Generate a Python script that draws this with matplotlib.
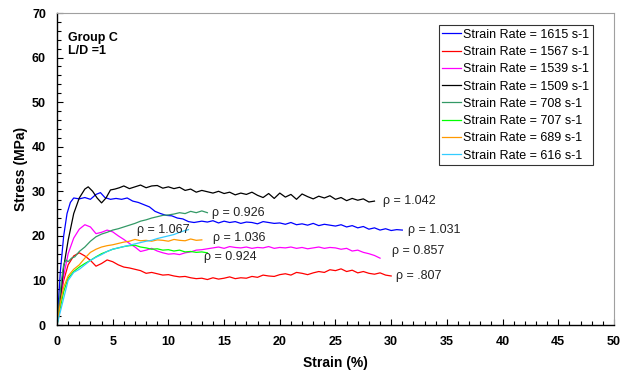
import numpy as np
import matplotlib
matplotlib.use("Agg")
import matplotlib.pyplot as plt
from matplotlib.ticker import MultipleLocator

plt.rcParams['font.family'] = ['Liberation Sans', 'DejaVu Sans']

# Stress-strain curves (strain %, stress MPa)
strain_1615 = [0, 0.3, 0.6, 0.9, 1.2, 1.5, 2.0, 2.5, 3.0, 3.5, 3.9, 4.3, 4.8, 5.3, 5.8, 6.3, 6.8, 7.3,
               7.8, 8.3, 8.8, 9.3, 9.8, 10.3, 10.8, 11.3, 11.8, 12.3, 13, 13.5, 14, 14.5, 15, 15.5, 16,
               16.5, 17, 17.5, 18, 18.5, 19, 19.5, 20, 20.5, 21, 21.5, 22, 22.5, 23, 23.5, 24, 24.5,
               25, 25.5, 26, 26.5, 27, 27.5, 28, 28.5, 29, 29.5, 30, 30.5, 31]
stress_1615 = [0, 12, 20, 25, 27.5, 28.5, 28.3, 28.6, 28.2, 29.3, 29.7, 28.6, 28.2, 28.4, 28.2, 28.5,
               27.8, 27.5, 27, 26.5, 25.5, 25, 24.6, 24.5, 24, 23.8, 23.2, 23, 23.3, 23.1, 23.4, 22.9,
               23.3, 23.0, 23.2, 22.8, 23.1, 23.0, 22.7, 23.2, 23.0, 22.8, 22.9, 22.6, 23.0, 22.5,
               22.7, 22.4, 22.8, 22.3, 22.6, 22.4, 22.2, 22.5, 22.0, 22.3, 21.8, 22.1, 21.5, 21.8,
               21.3, 21.6, 21.2, 21.4, 21.3]

strain_1567 = [0, 0.3, 0.6, 1.0, 1.5, 2.0, 2.5, 3.0, 3.5, 4.0, 4.5, 5.0, 5.5, 6.0, 6.5, 7.0, 7.5, 8.0,
               8.5, 9, 9.5, 10, 10.5, 11, 11.5, 12, 12.5, 13, 13.5, 14, 14.5, 15, 15.5, 16, 16.5, 17,
               17.5, 18, 18.5, 19, 19.5, 20, 20.5, 21, 21.5, 22, 22.5, 23, 23.5, 24, 24.5, 25, 25.5,
               26, 26.5, 27, 27.5, 28, 28.5, 29, 29.5, 30]
stress_1567 = [0, 6, 10, 13.5, 15.5, 16.2, 15.5, 14.5, 13.2, 13.8, 14.6, 14.2, 13.5, 13, 12.8, 12.5,
               12.2, 11.6, 11.8, 11.5, 11.2, 11.3, 11, 10.8, 10.9, 10.6, 10.4, 10.5, 10.2, 10.6, 10.3,
               10.5, 10.8, 10.4, 10.6, 10.5, 10.9, 10.7, 11.2, 11, 10.9, 11.3, 11.5, 11.2, 11.8, 11.6,
               11.3, 11.7, 12.0, 11.8, 12.4, 12.2, 12.6, 12.0, 12.3, 11.7, 12.0, 11.6, 11.4, 11.7,
               11.2, 11.0]

strain_1539 = [0, 0.3, 0.6, 1.0, 1.5, 2.0, 2.5, 3.0, 3.5, 4.0, 4.5, 5.0, 5.5, 6.0, 6.5, 7.0, 7.5, 8.0,
               8.5, 9.0, 9.5, 10, 10.5, 11, 11.5, 12, 12.5, 13, 13.5, 14, 14.5, 15, 15.5, 16, 16.5,
               17, 17.5, 18, 18.5, 19, 19.5, 20, 20.5, 21, 21.5, 22, 22.5, 23, 23.5, 24, 24.5, 25,
               25.5, 26, 26.5, 27, 27.5, 28, 28.5, 29]
stress_1539 = [0, 6, 11, 16, 19.5, 21.5, 22.5, 22, 20.5, 20.8, 21.3, 20.9, 20, 19.2, 18.3, 17.5, 16.5,
               16.8, 17.2, 16.6, 16.2, 15.9, 16.0, 15.8, 16.2, 16.4, 16.8, 16.9, 17.1, 17.3, 17.5,
               17.2, 17.6, 17.4, 17.3, 17.5, 17.2, 17.4, 17.3, 17.6, 17.2, 17.4, 17.3, 17.5, 17.2,
               17.4, 17.1, 17.3, 17.5, 17.2, 17.4, 17.3, 17.0, 17.2, 16.6, 16.8, 16.3, 16.0, 15.6, 15.0]

strain_1509 = [0, 0.3, 0.6, 1.0, 1.5, 2.0, 2.5, 2.8, 3.2, 3.6, 4.0, 4.4, 4.8, 5.2, 5.6, 6.0, 6.5, 7.0,
               7.5, 8.0, 8.5, 9.0, 9.5, 10, 10.5, 11, 11.5, 12, 12.5, 13, 13.5, 14, 14.5, 15, 15.5,
               16, 16.5, 17, 17.5, 18, 18.5, 19, 19.5, 20, 20.5, 21, 21.5, 22, 22.5, 23, 23.5, 24,
               24.5, 25, 25.5, 26, 26.5, 27, 27.5, 28, 28.5]
stress_1509 = [0, 6, 13, 19, 25, 28.5, 30.5, 31, 30, 28.5, 27.4, 28.5, 30.3, 30.5, 30.8, 31.2, 30.6,
               31, 31.4, 30.8, 31.2, 31.3, 30.7, 31, 30.6, 30.9, 30.2, 30.5, 29.8, 30.2, 29.9, 29.6,
               30, 29.5, 29.8, 29.2, 29.6, 29.3, 29.8, 29.1, 28.6, 29.5, 28.4, 29.6, 28.7, 29.3,
               28.2, 29.4, 28.8, 28.3, 28.9, 28.5, 29.0, 28.2, 28.6, 27.9, 28.4, 28.0, 28.3, 27.6, 27.8]

strain_708 = [0, 0.2, 0.4, 0.6, 0.8, 1.0, 1.3, 1.6, 2.0, 2.5, 3.0, 3.5, 4.0, 4.5, 5.0, 5.5, 6.0, 6.5,
              7.0, 7.5, 8.0, 8.5, 9.0, 9.5, 10, 10.5, 11, 11.5, 12, 12.5, 13, 13.5]
stress_708 = [0, 5, 10, 13.5, 14.6, 14.2, 15, 15.3, 16.5, 17.5, 18.8, 19.8, 20.4, 20.8, 21.3, 21.6,
              22.0, 22.4, 22.8, 23.3, 23.6, 24, 24.3, 24.6, 24.7, 24.9, 25.2, 25.0, 25.5, 25.2,
              25.6, 25.2]

strain_707 = [0, 0.3, 0.6, 1.0, 1.5, 2.0, 2.5, 3.0, 3.5, 4.0, 4.5, 5.0, 5.5, 6.0, 6.5, 7.0, 7.5, 8.0,
              8.5, 9.0, 9.5, 10, 10.5, 11, 11.5, 12, 12.5, 13, 13.5]
stress_707 = [0, 4, 7.5, 10.5, 12, 13, 13.8, 14.5, 15.3, 16, 16.5, 17, 17.3, 17.6, 17.8, 17.9, 17.5,
              17.3, 17.0, 17.1, 16.8, 16.9, 16.6, 16.8, 16.4, 16.5, 16.3, 16.4, 16.2]

strain_689 = [0, 0.3, 0.6, 1.0, 1.5, 2.0, 2.5, 3.0, 3.5, 4.0, 4.5, 5.0, 5.5, 6.0, 6.5, 7.0, 7.5, 8.0,
              8.5, 9.0, 9.5, 10, 10.5, 11, 11.5, 12, 12.5, 13]
stress_689 = [0, 5, 8.5, 11, 12.5, 13.5, 15, 16.3, 17, 17.5, 17.8, 18, 18.3, 18.6, 18.8, 19.2, 18.9,
              19.0, 18.8, 19.1, 19.0, 18.8, 19.2, 19.0, 18.9, 19.3, 19.0, 19.1]

strain_616 = [0, 0.3, 0.6, 1.0, 1.5, 2.0, 2.5, 3.0, 3.5, 4.0, 4.5, 5.0, 5.5, 6.0, 6.5, 7.0, 7.5, 8.0,
              8.5, 9.0, 9.5, 10, 10.5, 11, 11.5, 11.8]
stress_616 = [0, 3, 6, 10, 11.8, 12.5, 13.5, 14.5, 15.2, 15.8, 16.5, 17, 17.3, 17.6, 17.9, 18.2,
              18.5, 18.8, 19, 19.4, 19.7, 20, 20.3, 20.8, 21.2, 21.4]

rates = ['1615', '1567', '1539', '1509', '708', '707', '689', '616']
colors = ['#0000FF', '#FF0000', '#FF00FF', '#000000', '#339966', '#00FF00', '#FF9900', '#33CCFF']
curves = [(strain_1615, stress_1615), (strain_1567, stress_1567), (strain_1539, stress_1539),
          (strain_1509, stress_1509), (strain_708, stress_708), (strain_707, stress_707),
          (strain_689, stress_689), (strain_616, stress_616)]

# density labels (text, strain, stress)
rho_text = ['ρ = 1.042', 'ρ = 1.031', 'ρ = 0.857', 'ρ = .807',
            'ρ = 0.926', 'ρ = 1.067', 'ρ = 1.036', 'ρ = 0.924']
rho_x = [29.3, 31.5, 30.1, 30.4, 13.9, 7.2, 14.0, 13.2]
rho_y = [27.8, 21.4, 16.5, 11.1, 25.1, 21.4, 19.6, 15.3]

fig = plt.figure(figsize=(6.23, 3.76), dpi=100)
ax = fig.add_axes([0.0915, 0.1356, 0.894, 0.8298])

for (sx, sy), c, r in zip(curves, colors, rates):
    ax.plot(sx, sy, color=c, lw=0.9, label='Strain Rate = %s s-1' % r)

for t, x, y in zip(rho_text, rho_x, rho_y):
    ax.text(x, y, t, fontsize=9, color='#222222', va='center', ha='left')

ax.text(1.0, 65.7, 'Group C\nL/D =1', fontsize=9, fontweight='bold', va='top', linespacing=1.05)

ax.set_xlim(0, 50)
ax.set_ylim(0, 70)
ax.xaxis.set_major_locator(MultipleLocator(5))
ax.xaxis.set_minor_locator(MultipleLocator(1))
ax.yaxis.set_major_locator(MultipleLocator(10))
ax.yaxis.set_minor_locator(MultipleLocator(2))
ax.tick_params(which='both', direction='in', top=False, right=False, width=0.8)
ax.tick_params(which='major', length=4, labelsize=9)
ax.tick_params(axis='x', which='major', pad=8)
ax.tick_params(axis='y', which='major', pad=8)
ax.tick_params(which='minor', length=3)
for lab in ax.get_xticklabels() + ax.get_yticklabels():
    lab.set_fontweight('bold')

ax.spines['left'].set_linewidth(1.0)
ax.spines['bottom'].set_linewidth(1.0)
ax.spines['top'].set_color('#A0A0A0')
ax.spines['right'].set_color('#A0A0A0')

ax.set_xlabel('Strain (%)', fontsize=10, fontweight='bold', labelpad=6)
ax.set_ylabel('Stress (MPa)', fontsize=10, fontweight='bold', labelpad=3)

leg = ax.legend(loc='upper right', bbox_to_anchor=(0.962, 0.9615), fontsize=9, frameon=True,
                fancybox=False, edgecolor='black', handlelength=1.5, handletextpad=0.15,
                labelspacing=0.42, borderpad=0.3, borderaxespad=0)
leg.get_frame().set_linewidth(0.8)

fig.savefig('out.png', dpi=100)
